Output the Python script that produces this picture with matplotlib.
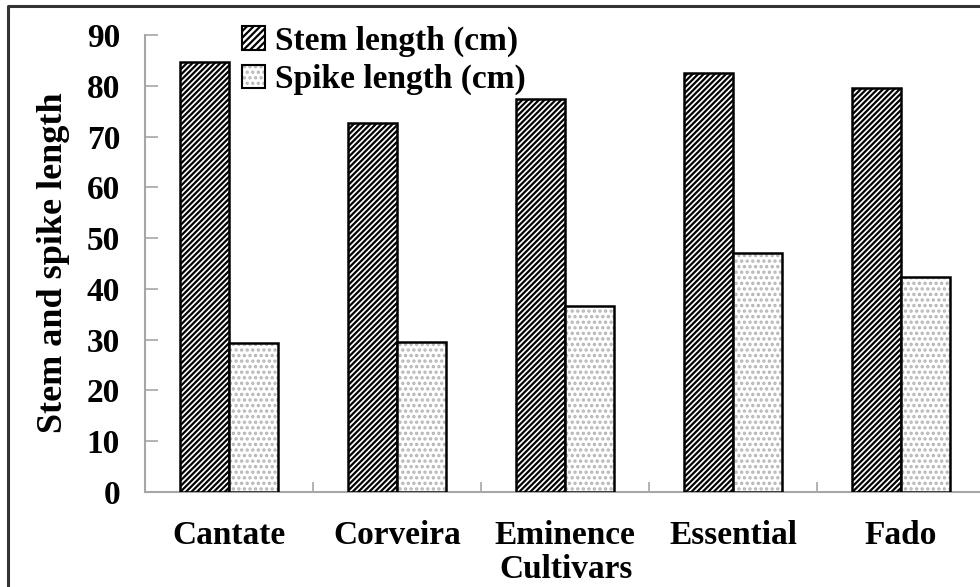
import numpy as np
import matplotlib
matplotlib.use("Agg")
import matplotlib.pyplot as plt
from matplotlib.lines import Line2D
from matplotlib.patches import Rectangle
from matplotlib.legend_handler import HandlerTuple

cultivars = ["Cantate", "Corveira", "Eminence", "Essential", "Fado"]
stem_len = [84.6, 72.6, 77.4, 82.5, 79.5]
spike_len = [29.3, 29.5, 36.6, 47.0, 42.3]
yticks = [0, 10, 20, 30, 40, 50, 60, 70, 80, 90]

plt.rcParams['font.family'] = ['Liberation Serif', 'DejaVu Serif']
plt.rcParams['font.weight'] = 'bold'
plt.rcParams['hatch.linewidth'] = 1.6
fs = 24
axcol = '#a6a6a6'
dotcol = '#b4b4b4'

fig = plt.figure(figsize=(9.8, 5.87), dpi=100)
ax = fig.add_axes([145/980, 1-492/587, 840/980, 457/587])

x = np.arange(len(cultivars))
w = 0.29
ax.bar(x - w/2, stem_len, w, color='white', edgecolor='black', hatch='//////', linewidth=1.8, zorder=3)
ax.bar(x + w/2, spike_len, w, color='white', edgecolor=dotcol, hatch='...', linewidth=0, zorder=3)
ax.bar(x + w/2, spike_len, w, fill=False, edgecolor='black', linewidth=1.8, zorder=4)

ax.set_xlim(-0.5, len(cultivars) - 0.5)
ax.set_ylim(0, 90)
ax.set_yticks(yticks)
ax.set_xticks(x)
ax.set_xticklabels(cultivars, fontsize=fs, fontweight='bold')
ax.set_xticks(np.arange(len(cultivars) + 1) - 0.5, minor=True)
for lab in ax.get_yticklabels():
    lab.set_fontsize(fs)
    lab.set_fontweight('bold')

for s in ['top', 'right']:
    ax.spines[s].set_visible(False)
for s in ['left', 'bottom']:
    ax.spines[s].set_color(axcol)
    ax.spines[s].set_linewidth(1.5)
ax.tick_params(axis='y', direction='in', length=9, width=1.2, color=axcol, pad=18)
ax.tick_params(axis='x', which='major', length=0, pad=20)
ax.tick_params(axis='x', which='minor', direction='in', length=7, width=1.2, color=axcol)

# legend with proxy patches
h_stem = Rectangle((0, 0), 1, 1, facecolor='white', edgecolor='black', hatch='/////', linewidth=1.5)
h_dots = Rectangle((0, 0), 1, 1, facecolor='white', edgecolor=dotcol, hatch='...', linewidth=0)
h_box = Rectangle((0, 0), 1, 1, fill=False, edgecolor='black', linewidth=1.5)
fig.legend([h_stem, (h_dots, h_box)], ["Stem length (cm)", "Spike length (cm)"],
           handler_map={tuple: HandlerTuple(ndivide=1, pad=0)},
           loc='upper left', bbox_to_anchor=(225/980, 1-9/587), frameon=False,
           prop={'size': fs, 'weight': 'bold'}, handlelength=0.7, handleheight=0.7,
           handletextpad=0.3, labelspacing=0.22, borderpad=0)

fig.text(54/980, 1-263/587, "Stem and spike length", rotation=90, ha='center', va='center',
         fontsize=26, fontweight='bold')
fig.text(566/980, 1-569/587, "Cultivars", ha='center', va='center', fontsize=fs, fontweight='bold')

# frame around the figure (left and top edges visible)
fig.add_artist(Line2D([8/980, 8/980, 1.0], [0.0, 1-6/587, 1-6/587], transform=fig.transFigure,
                      color='#333333', linewidth=2.2))

fig.savefig("out.png", dpi=100)
